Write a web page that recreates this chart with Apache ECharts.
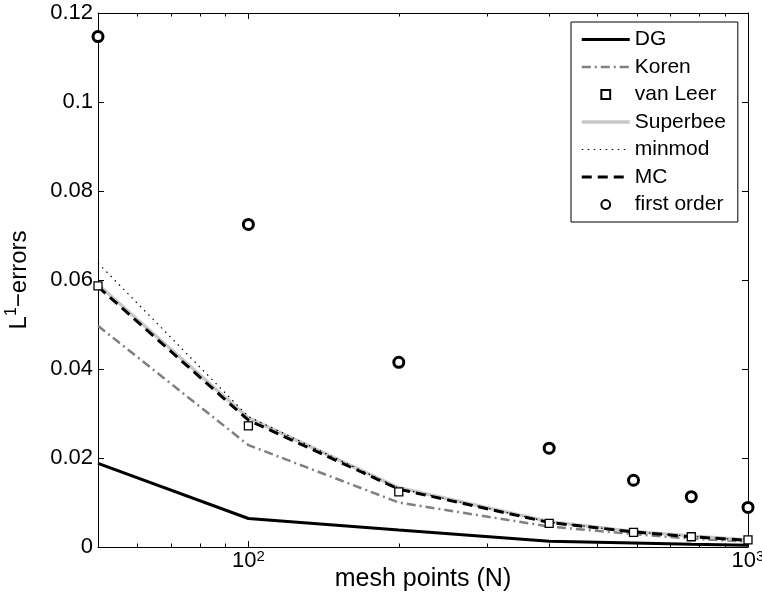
<!DOCTYPE html>
<html>
<head>
<meta charset="utf-8">
<script src="https://cdn.jsdelivr.net/npm/echarts@6/dist/echarts.min.js"></script>
<style>
html,body{margin:0;padding:0;background:#fff;}
#chart{width:762px;height:601px;}
</style>
</head>
<body>
<div id="chart"></div>
<script>
// ---- data ----
var meshPoints = [50, 100, 200, 400, 590, 770, 1000];
var dgErr       = [0.0188, 0.0064, 0.0038, 0.0013, 0.0009, 0.0006, 0.0004];
var korenErr    = [0.0497, 0.0229, 0.0100, 0.0046, 0.0029, 0.0019, 0.0012];
var vanLeerErr  = [0.0587, 0.0272, 0.0124, 0.0053, 0.0033, 0.0023, 0.0016];
var superbeeErr = [0.0590, 0.0290, 0.0133, 0.0057, 0.0035, 0.0025, 0.0016];
var minmodErr   = [0.0638, 0.0293, 0.0132, 0.0056, 0.0034, 0.0024, 0.0015];
var mcErr       = [0.0585, 0.0285, 0.0130, 0.0055, 0.0034, 0.0023, 0.0015];
var firstOrderErr = [0.1147, 0.0725, 0.0415, 0.0222, 0.0150, 0.0113, 0.0089];
var seriesNames = ['DG', 'Koren', 'van Leer', 'Superbee', 'minmod', 'MC', 'first order'];
var markerOnly = {'van Leer': true, 'first order': true};
var majorTicksX = [100, 1000];
var minorTicksX = [60, 70, 80, 90, 200, 300, 400, 500, 600, 700, 800, 900];

function pairs(ys) { return meshPoints.map(function (x, i) { return [x, ys[i]]; }); }

var FONT = 'Liberation Sans';
var chart = echarts.init(document.getElementById('chart'), null, {renderer: 'canvas'});

var baseX = {type: 'log', logBase: 10, min: 50, max: 1000, gridIndex: 0, splitLine: {show: false}};
function xAxisDef(pos, customTicks, len, withLabels, withLine) {
  return Object.assign({}, baseX, {
    position: pos,
    axisLine: {show: withLine, onZero: false, lineStyle: {color: '#000', width: 1}},
    axisTick: {show: true, inside: true, length: len, customValues: customTicks, lineStyle: {color: '#000', width: 1}},
    axisLabel: withLabels ? {
      show: true, customValues: majorTicksX, margin: 2,
      formatter: function (v) { return '{b|10}{s|' + Math.round(Math.log10(v)) + '}'; },
      rich: {
        b: {fontFamily: FONT, fontSize: 22, color: '#000'},
        s: {fontFamily: FONT, fontSize: 15, color: '#000', padding: [0, 0, 8, 0]}
      }
    } : {show: false},
    name: withLabels ? 'mesh points (N)' : '',
    nameLocation: 'middle', nameGap: 20, nameMoveOverlap: false,
    nameTextStyle: {fontFamily: FONT, fontSize: 25, color: '#000'}
  });
}

function lineSeries(name, ys, color, width, type, z) {
  return {name: name, type: 'line', data: pairs(ys), symbol: 'circle', showSymbol: false,
    lineStyle: {color: color, width: width, type: type}, itemStyle: {color: color}, z: z};
}
function markerSeries(name, ys, symbol, size, borderWidth) {
  return {name: name, type: 'line', data: pairs(ys), symbol: symbol, symbolSize: size, showSymbol: true,
    lineStyle: {width: 0, opacity: 0},
    itemStyle: {color: '#fff', borderColor: '#000', borderWidth: borderWidth, opacity: 1}, z: 6};
}

var option = {
  animation: false,
  backgroundColor: '#fff',
  grid: {left: 98, right: 14, top: 13, bottom: 54, containLabel: false, outerBoundsMode: 'none'},
  xAxis: [
    xAxisDef('bottom', majorTicksX, 6, true, true),
    xAxisDef('bottom', minorTicksX, 3.5, false, false),
    xAxisDef('top', majorTicksX, 6, false, true),
    xAxisDef('top', minorTicksX, 3.5, false, false)
  ],
  yAxis: [
    {
      type: 'value', min: 0, max: 0.12, interval: 0.02, position: 'left',
      splitLine: {show: false},
      axisLine: {show: true, onZero: false, lineStyle: {color: '#000', width: 1}},
      axisTick: {show: true, inside: true, length: 6, lineStyle: {color: '#000'}},
      axisLabel: {show: true, margin: 5, fontFamily: FONT, fontSize: 22, color: '#000'},
      name: '{n|L}{s|1}{n|\u2212errors}', nameLocation: 'middle', nameGap: 64, nameRotate: 90,
      nameMoveOverlap: false,
      nameTextStyle: {
        rich: {
          n: {fontFamily: FONT, fontSize: 24, color: '#000'},
          s: {fontFamily: FONT, fontSize: 16, color: '#000', padding: [0, 0, 14, 0]}
        }
      }
    },
    {
      type: 'value', min: 0, max: 0.12, interval: 0.02, position: 'right',
      splitLine: {show: false},
      axisLine: {show: true, onZero: false, lineStyle: {color: '#000', width: 1}},
      axisTick: {show: true, inside: true, length: 6, lineStyle: {color: '#000'}},
      axisLabel: {show: false}
    }
  ],
  legend: {
    orient: 'vertical', left: 571, top: 22,
    padding: [7, 12, 7, 9], itemGap: 6.5,
    itemWidth: 48, itemHeight: 11,
    backgroundColor: '#fff', borderColor: '#000', borderWidth: 1, borderRadius: 0,
    textStyle: {fontFamily: FONT, fontSize: 21, color: '#000', lineHeight: 19},
    lineStyle: {width: 'inherit'},
    data: seriesNames.map(function (n) {
      return markerOnly[n] ? {name: n} : {name: n, itemStyle: {opacity: 0}};
    })
  },
  series: [
    lineSeries('DG', dgErr, '#000', 3, 'solid', 2),
    lineSeries('Koren', korenErr, '#808080', 2.5, [9, 4, 2, 4], 2),
    markerSeries('van Leer', vanLeerErr, 'rect', 8, 1.3),
    lineSeries('Superbee', superbeeErr, '#c8c8c8', 3.5, 'solid', 3),
    lineSeries('minmod', minmodErr, '#000', 1.2, [1.5, 4.5], 4),
    lineSeries('MC', mcErr, '#000', 3, [10, 6], 5),
    markerSeries('first order', firstOrderErr, 'circle', 10, 3)
  ]
};
chart.setOption(option);
</script>
</body>
</html>
